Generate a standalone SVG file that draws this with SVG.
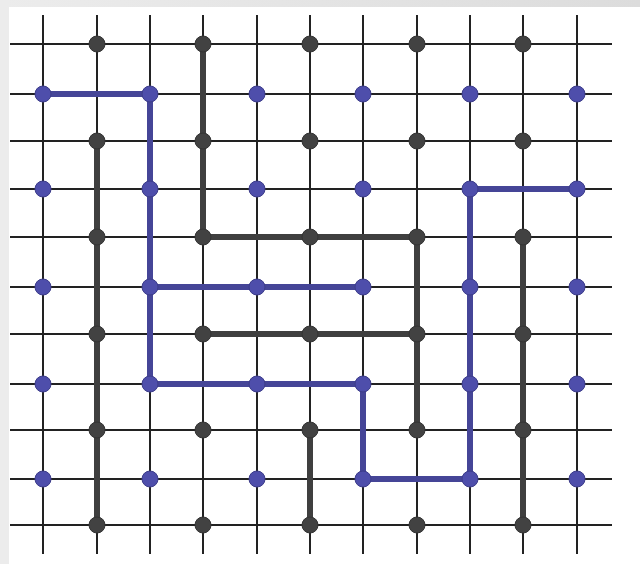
<svg xmlns="http://www.w3.org/2000/svg" width="640" height="564" viewBox="0 0 640 564">
<defs>
<linearGradient id="topband" x1="0" y1="0" x2="1" y2="0">
<stop offset="0" stop-color="#ececec"/>
<stop offset="1" stop-color="#dcdcdc"/>
</linearGradient>
<style>
.grid line{stroke:#222;stroke-width:2}
.blk{fill:none;stroke:#3f3f3f;stroke-width:6;stroke-linejoin:round;stroke-linecap:round}
.blu{fill:none;stroke:#454597;stroke-width:6;stroke-linejoin:round;stroke-linecap:round}
.bd{fill:#424242;stroke:#333;stroke-width:1}
.ud{fill:#4e4eab;stroke:#3c3c8a;stroke-width:1}
</style>
</defs>
<rect width="640" height="564" fill="#ffffff"/>
<rect x="0" y="0" width="640" height="7" fill="url(#topband)"/>
<rect x="0" y="0" width="9" height="564" fill="#ececec"/>
<g id="grid" class="grid">
<line x1="10" y1="44" x2="612" y2="44"/>
<line x1="10" y1="94" x2="612" y2="94"/>
<line x1="10" y1="141" x2="612" y2="141"/>
<line x1="10" y1="189" x2="612" y2="189"/>
<line x1="10" y1="237" x2="612" y2="237"/>
<line x1="10" y1="287" x2="612" y2="287"/>
<line x1="10" y1="334" x2="612" y2="334"/>
<line x1="10" y1="384" x2="612" y2="384"/>
<line x1="10" y1="430" x2="612" y2="430"/>
<line x1="10" y1="479" x2="612" y2="479"/>
<line x1="10" y1="525" x2="612" y2="525"/>
<line x1="43" y1="15" x2="43" y2="554"/>
<line x1="97" y1="15" x2="97" y2="554"/>
<line x1="150" y1="15" x2="150" y2="554"/>
<line x1="203" y1="15" x2="203" y2="554"/>
<line x1="257" y1="15" x2="257" y2="554"/>
<line x1="310" y1="15" x2="310" y2="554"/>
<line x1="363" y1="15" x2="363" y2="554"/>
<line x1="417" y1="15" x2="417" y2="554"/>
<line x1="470" y1="15" x2="470" y2="554"/>
<line x1="523" y1="15" x2="523" y2="554"/>
<line x1="577" y1="15" x2="577" y2="554"/>
</g>
<g id="connectors">
<path class="blk" d="M203 44 V237 H417 V430"/>
<path class="blk" d="M203 334 H417"/>
<path class="blk" d="M97 141 V525"/>
<path class="blk" d="M523 237 V525"/>
<path class="blk" d="M310 430 V525"/>
<path class="blu" d="M43 94 H150 V384 H363 V479 H470 V189 H577"/>
<path class="blu" d="M150 287 H363"/>
</g>
<g id="black-dots">
<g id="b0"><circle class="bd" cx="97" cy="44" r="8"/><circle class="bd" cx="203" cy="44" r="8"/><circle class="bd" cx="310" cy="44" r="8"/><circle class="bd" cx="417" cy="44" r="8"/><circle class="bd" cx="523" cy="44" r="8"/></g>
<g id="b1"><circle class="bd" cx="97" cy="141" r="8"/><circle class="bd" cx="203" cy="141" r="8"/><circle class="bd" cx="310" cy="141" r="8"/><circle class="bd" cx="417" cy="141" r="8"/><circle class="bd" cx="523" cy="141" r="8"/></g>
<g id="b2"><circle class="bd" cx="97" cy="237" r="8"/><circle class="bd" cx="203" cy="237" r="8"/><circle class="bd" cx="310" cy="237" r="8"/><circle class="bd" cx="417" cy="237" r="8"/><circle class="bd" cx="523" cy="237" r="8"/></g>
<g id="b3"><circle class="bd" cx="97" cy="334" r="8"/><circle class="bd" cx="203" cy="334" r="8"/><circle class="bd" cx="310" cy="334" r="8"/><circle class="bd" cx="417" cy="334" r="8"/><circle class="bd" cx="523" cy="334" r="8"/></g>
<g id="b4"><circle class="bd" cx="97" cy="430" r="8"/><circle class="bd" cx="203" cy="430" r="8"/><circle class="bd" cx="310" cy="430" r="8"/><circle class="bd" cx="417" cy="430" r="8"/><circle class="bd" cx="523" cy="430" r="8"/></g>
<g id="b5"><circle class="bd" cx="97" cy="525" r="8"/><circle class="bd" cx="203" cy="525" r="8"/><circle class="bd" cx="310" cy="525" r="8"/><circle class="bd" cx="417" cy="525" r="8"/><circle class="bd" cx="523" cy="525" r="8"/></g>
</g>
<g id="blue-dots">
<g id="u0"><circle class="ud" cx="43" cy="94" r="8"/><circle class="ud" cx="150" cy="94" r="8"/><circle class="ud" cx="257" cy="94" r="8"/><circle class="ud" cx="363" cy="94" r="8"/><circle class="ud" cx="470" cy="94" r="8"/><circle class="ud" cx="577" cy="94" r="8"/></g>
<g id="u1"><circle class="ud" cx="43" cy="189" r="8"/><circle class="ud" cx="150" cy="189" r="8"/><circle class="ud" cx="257" cy="189" r="8"/><circle class="ud" cx="363" cy="189" r="8"/><circle class="ud" cx="470" cy="189" r="8"/><circle class="ud" cx="577" cy="189" r="8"/></g>
<g id="u2"><circle class="ud" cx="43" cy="287" r="8"/><circle class="ud" cx="150" cy="287" r="8"/><circle class="ud" cx="257" cy="287" r="8"/><circle class="ud" cx="363" cy="287" r="8"/><circle class="ud" cx="470" cy="287" r="8"/><circle class="ud" cx="577" cy="287" r="8"/></g>
<g id="u3"><circle class="ud" cx="43" cy="384" r="8"/><circle class="ud" cx="150" cy="384" r="8"/><circle class="ud" cx="257" cy="384" r="8"/><circle class="ud" cx="363" cy="384" r="8"/><circle class="ud" cx="470" cy="384" r="8"/><circle class="ud" cx="577" cy="384" r="8"/></g>
<g id="u4"><circle class="ud" cx="43" cy="479" r="8"/><circle class="ud" cx="150" cy="479" r="8"/><circle class="ud" cx="257" cy="479" r="8"/><circle class="ud" cx="363" cy="479" r="8"/><circle class="ud" cx="470" cy="479" r="8"/><circle class="ud" cx="577" cy="479" r="8"/></g>
</g>
</svg>
